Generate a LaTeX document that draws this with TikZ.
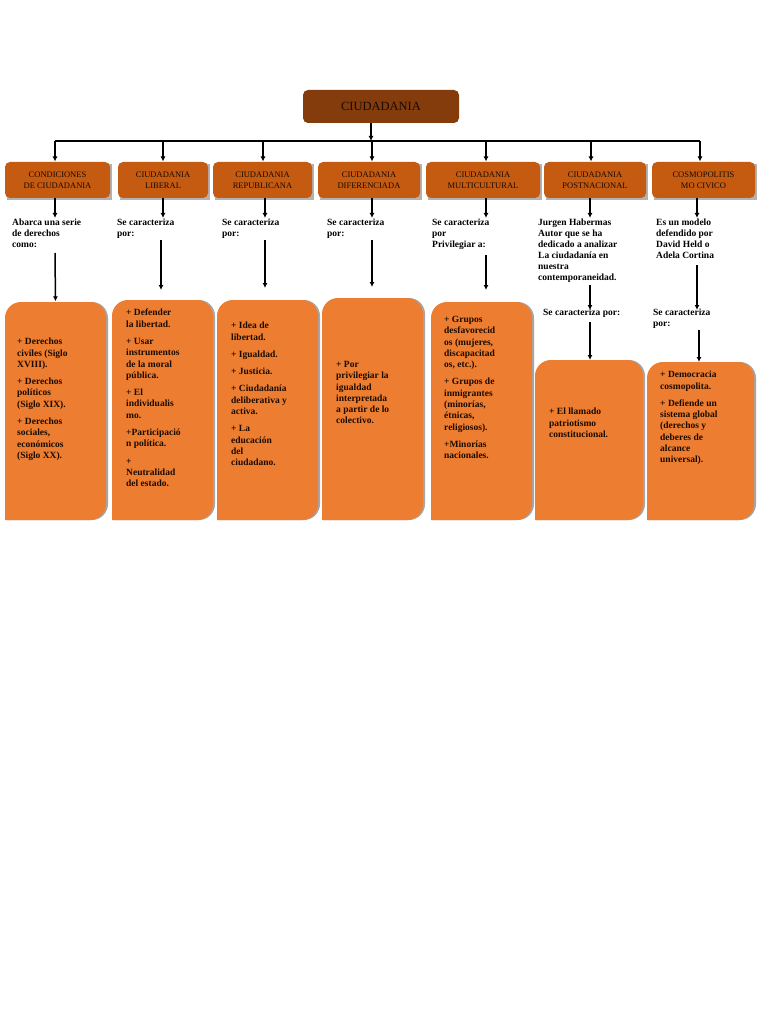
\documentclass[tikz,border=0pt]{standalone}
\usepackage{fontspec}
\setmainfont{Liberation Serif}
\usetikzlibrary{arrows.meta}
\definecolor{topc}{HTML}{843C0C}
\definecolor{catc}{HTML}{C55A11}
\definecolor{boxc}{HTML}{ED7D31}
\definecolor{txtc}{HTML}{1A0A00}
\begin{document}
\begin{tikzpicture}[x=1pt,y=-1pt,
  cat/.style={fill=catc,rounded corners=5pt,align=center,font=\fontsize{8.5}{11}\selectfont,text=txtc,inner sep=0pt},
  lbl/.style={anchor=north west,align=left,font=\bfseries\fontsize{9.5}{11}\selectfont,inner sep=0pt},
  body/.style={anchor=north west,align=left,font=\bfseries\fontsize{9.5}{11.3}\selectfont,inner sep=0pt,text=txtc},
  arr/.style={-{Latex[length=5pt,width=5pt]},line width=1.5pt},
  slot/.style={inner sep=0pt,fill=none,draw=none}]
\useasboundingbox[fill=white] (0,0) rectangle (768,1024);
% top
\node[fill=topc,rounded corners=5pt,minimum width=156pt,minimum height=33pt,font=\fontsize{12.5}{14}\selectfont,text=txtc] (top) at (381,106.5) {CIUDADANIA};
\coordinate (hj) at (371,141);
% categories
\foreach \n/\xa/\xb/\t in {c1/5/110/{CONDICIONES\\DE CIUDADANIA},c2/118/208/{CIUDADANIA\\LIBERAL},c3/213/312/{CIUDADANIA\\REPUBLICANA},c4/318/420/{CIUDADANIA\\DIFERENCIADA},c5/426/540/{CIUDADANIA\\MULTICULTURAL},c6/544/646/{CIUDADANIA\\POSTNACIONAL},c7/652/755/{COSMOPOLITIS\\MO CIVICO}}{
  \fill[black!30] ({\xa+2},164) rectangle ({\xb+2},200);
  \node[cat,minimum width={(\xb-\xa)*1pt},minimum height=36pt] (\n) at ({(\xa+\xb)/2},180) {\t};
}
\draw[arr] (371,123) -- (hj);
\coordinate (hl) at (55,141); \coordinate (hr) at (700,141);
\draw[line width=1.5pt] (hl) -- (hr);
\foreach \x/\n in {55/c1,163/c2,263/c3,372/c4,486/c5,591/c6,700/c7}{
  \coordinate (t\n) at (\x,141);
  \draw[arr] (t\n) -- (\x,161.5);
}
% bottom boxes
\foreach \n/\xa/\xb/\ya in {b1/5/106/302,b2/112/213/300,b3/217/318/300,b4/322/423/298,b5/431/532/302,b6/535/643/360,b7/647/754/362}{
  \fill[black!35,xshift=2pt] (\xa,520) [rounded corners=16pt] |- ({(\xa+\xb)/2},\ya) -| (\xb,520) [sharp corners] -- cycle;
  \fill[boxc] (\xa,520) [rounded corners=16pt] |- ({(\xa+\xb)/2},\ya) -| (\xb,520) [sharp corners] -- cycle;
  \node[slot] (\n) at ({(\xa+\xb)/2},\ya) {};
}
% labels
\node[lbl] (l1) at (12,219) {Abarca una serie\\de derechos\\como:};
\node[lbl] (l2) at (117,219) {Se caracteriza\\por:};
\node[lbl] (l3) at (222,219) {Se caracteriza\\por:};
\node[lbl] (l4) at (327,219) {Se caracteriza\\por:};
\node[lbl] (l5) at (432,219) {Se caracteriza\\por\\Privilegiar a:};
\node[lbl] (l6) at (538,219) {Jurgen Habermas\\Autor que se ha\\dedicado a analizar\\La ciudadanía en\\nuestra\\contemporaneidad.};
\node[lbl] (l7) at (656,219) {Es un modelo\\defendido por\\David Held o\\Adela Cortina};
\node[lbl] (m6) at (543,309) {Se caracteriza por:};
\node[lbl] (m7) at (653,309) {Se caracteriza\\por:};
% short arrows cat->label
\foreach \n/\x in {1/55,2/163,3/265,4/372,5/486,6/590,7/697}{
  \draw[arr] (\x,198) -- (\x,218);
}
% long arrows
\draw[arr] (55,253) -- (b1);
\draw[arr] (161,240) -- (161,290);
\draw[arr] (265,240) -- (265,288);
\draw[arr] (372,240) -- (372,287);
\draw[arr] (486,255) -- (486,290);
\draw[arr] (590,285) -- (590,310);
\draw[arr] (590,322) -- (590,360);
\draw[arr] (697,265) -- (697,310);
\draw[arr] (699,330) -- (699,362);
% body texts
\node[body] at (17,338) {+ Derechos\\civiles (Siglo\\XVIII).\\[6pt]+ Derechos\\políticos\\(Siglo XIX).\\[6pt]+ Derechos\\sociales,\\económicos\\(Siglo XX).};
\node[body] at (126,309) {+ Defender\\la libertad.\\[6pt]+ Usar\\instrumentos\\de la moral\\pública.\\[6pt]+ El\\individualis\\mo.\\[6pt]+Participació\\n política.\\[6pt]+\\Neutralidad\\del estado.};
\node[body] at (231,322) {+ Idea de\\libertad.\\[6pt]+ Igualdad.\\[6pt]+ Justicia.\\[6pt]+ Ciudadanía\\deliberativa y\\activa.\\[6pt]+ La\\educación\\del\\ciudadano.};
\node[body] at (336,361) {+ Por\\privilegiar la\\igualdad\\interpretada\\a partir de lo\\colectivo.};
\node[body] at (444,316) {+ Grupos\\desfavorecid\\os (mujeres,\\discapacitad\\os, etc.).\\[6pt]+ Grupos de\\inmigrantes\\(minorías,\\étnicas,\\religiosos).\\[6pt]+Minorías\\nacionales.};
\node[body] at (549,408) {+ El llamado\\patriotismo\\constitucional.};
\node[body] at (660,371) {+ Democracia\\cosmopolita.\\[6pt]+ Defiende un\\sistema global\\(derechos y\\deberes de\\alcance\\universal).};
\end{tikzpicture}
\end{document}
